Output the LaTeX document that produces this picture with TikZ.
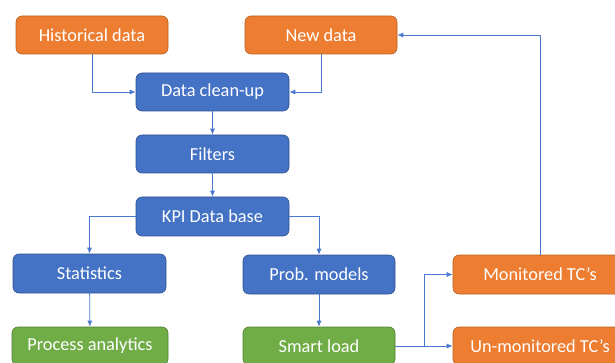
\documentclass[tikz,border=0pt]{standalone}
\usepackage{fontspec}
\setmainfont{Carlito}
\usetikzlibrary{arrows.meta}
\definecolor{orf}{HTML}{ED7D31}\definecolor{ord}{HTML}{B8621F}
\definecolor{blf}{HTML}{4472C4}\definecolor{bld}{HTML}{2F528F}
\definecolor{grf}{HTML}{70AD47}\definecolor{grd}{HTML}{507E32}
\definecolor{ln}{HTML}{4A78D0}
\begin{document}
\begin{tikzpicture}[x=1pt,y=-1pt,
  box/.style={rounded corners=6pt,line width=0.6pt,text=white,font=\fontsize{18.3}{20}\selectfont,minimum height=38pt,inner sep=0pt},
  obox/.style={box,fill=orf,draw=ord},
  bbox/.style={box,fill=blf,draw=bld},
  gbox/.style={box,fill=grf,draw=grd},
  arr/.style={draw=ln,line width=0.8pt,-{Latex[length=6pt,width=5pt]}}]
\useasboundingbox (0,0) rectangle (615,363);
\clip (0,0) rectangle (615,363);
\node[obox,minimum width=152pt] (hist) at (92,35) {Historical data};
\node[obox,minimum width=152pt] (new) at (321,35) {New data};
\node[bbox,minimum width=153pt] (clean) at (212.5,92) {Data clean-up};
\node[bbox,minimum width=153pt] (filt) at (212.5,154) {Filters};
\node[bbox,minimum width=153pt,minimum height=39pt] (kpi) at (212.5,216.5) {KPI Data base};
\node[bbox,minimum width=153pt,minimum height=39pt] (stat) at (89.5,273.5) {Statistics};
\node[bbox,minimum width=152pt,minimum height=39pt] (prob) at (319,274.5) {Prob. models};
\node[obox,minimum width=174pt,minimum height=39pt] (mon) at (540,274.5) {Monitored TC’s};
\node[gbox,minimum width=156pt] (proc) at (90,346) {Process analytics};
\node[gbox,minimum width=152pt] (smart) at (319,346) {Smart load};
\node[obox,minimum width=174pt] (unmon) at (540,346) {Un-monitored TC’s};
\coordinate (br) at (424,346);
\draw[arr] (hist.south) |- (clean.west);
\draw[arr] (new.south) |- (clean.east);
\draw[arr] (clean) -- (filt);
\draw[arr] (filt) -- (kpi);
\draw[arr] (kpi.west) -| (stat.north);
\draw[arr] (kpi.east) -| (prob.north);
\draw[arr] (stat) -- (proc);
\draw[arr] (prob) -- (smart);
\draw[arr] (smart.east) -- (unmon.west);
\draw[arr] (br) |- (mon.west);
\draw[arr] (mon.north) |- (new.east);
\end{tikzpicture}
\end{document}
